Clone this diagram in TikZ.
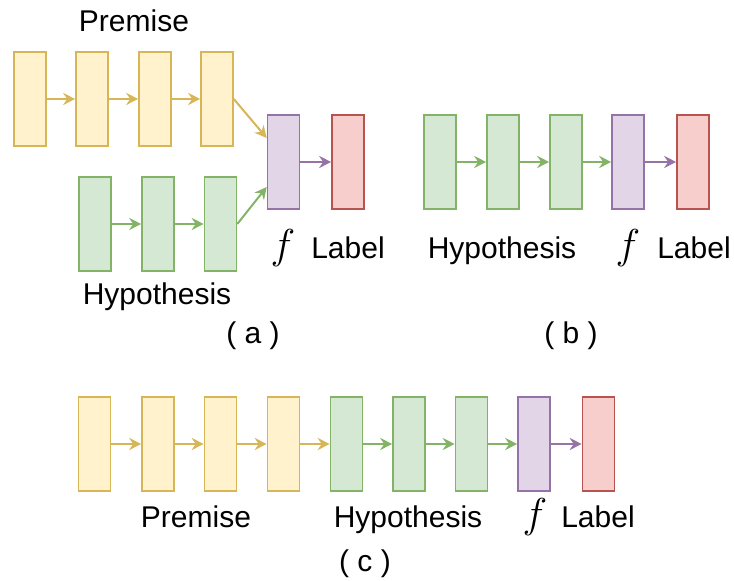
\documentclass[tikz,border=0pt]{standalone}
\usepackage{amsmath,amssymb}
\usepackage{fontspec}
\setmainfont{Liberation Sans}
\usetikzlibrary{arrows.meta}

\definecolor{premfill}{HTML}{FFF2CC}
\definecolor{premline}{HTML}{D6B656}
\definecolor{hypfill}{HTML}{D5E8D4}
\definecolor{hypline}{HTML}{82B366}
\definecolor{ffill}{HTML}{E1D5E7}
\definecolor{fline}{HTML}{9673A6}
\definecolor{labfill}{HTML}{F8CECC}
\definecolor{labline}{HTML}{B85450}

\begin{document}
\begin{tikzpicture}[x=0.5pt, y=-0.5pt,
    cell/.style={draw, line width=0.8pt, inner sep=0pt, minimum width=16pt, minimum height=47pt},
    prem/.style={cell, fill=premfill, draw=premline},
    hyp/.style={cell, fill=hypfill, draw=hypline},
    fcell/.style={cell, fill=ffill, draw=fline},
    lab/.style={cell, fill=labfill, draw=labline},
    link/.style={line width=1pt, -{Stealth[length=6pt, width=6pt, inset=2pt]}},
    txt/.style={inner sep=0pt, anchor=base, font=\fontsize{15}{18}\selectfont},
    ftxt/.style={txt, scale=1.45}]
    \useasboundingbox (0,0) rectangle (734,581);

    % (a) two encoders meeting in f
    \node[prem] (ap1) at (30,99) {};
    \node[prem] (ap2) at (92,99) {};
    \node[prem] (ap3) at (155,99) {};
    \node[prem] (ap4) at (217,99) {};
    \node[hyp] (ah1) at (95,224) {};
    \node[hyp] (ah2) at (158,224) {};
    \node[hyp] (ah3) at (220.5,224) {};
    \node[fcell] (af) at (283.5,162) {};
    \node[lab] (ay) at (348,162) {};
    \draw[link, premline] (ap1) -- (ap2);
    \draw[link, premline] (ap2) -- (ap3);
    \draw[link, premline] (ap3) -- (ap4);
    \draw[link, premline] (ap4.east) -- (af.west |- 0,138);
    \draw[link, hypline] (ah1) -- (ah2);
    \draw[link, hypline] (ah2) -- (ah3);
    \draw[link, hypline] (ah3.east) -- (af.west |- 0,187);
    \draw[link, fline] (af) -- (ay);
    \node[txt] (aprem) at (134,32) {Premise};
    \node[txt] (ahyp) at (157,305) {Hypothesis};
    \node[ftxt] (aftxt) at (283,259) {$f$};
    \node[txt] (aytxt) at (348,259) {Label};
    \node[txt] (acap) at (253,344) {( a )};

    % (b) hypothesis only
    \node[hyp] (bh1) at (440,162) {};
    \node[hyp] (bh2) at (503,162) {};
    \node[hyp] (bh3) at (566,162) {};
    \node[fcell] (bf) at (628,162) {};
    \node[lab] (by) at (693,162) {};
    \draw[link, hypline] (bh1) -- (bh2);
    \draw[link, hypline] (bh2) -- (bh3);
    \draw[link, hypline] (bh3) -- (bf);
    \draw[link, fline] (bf) -- (by);
    \node[txt] (bhyp) at (502,259) {Hypothesis};
    \node[ftxt] (bftxt) at (628,259) {$f$};
    \node[txt] (bytxt) at (694,259) {Label};
    \node[txt] (bcap) at (571,344) {( b )};

    % (c) one chain, premise then hypothesis
    \node[prem] (cp1) at (94.5,444) {};
    \node[prem] (cp2) at (158,444) {};
    \node[prem] (cp3) at (220.5,444) {};
    \node[prem] (cp4) at (283.5,444) {};
    \node[hyp] (ch1) at (346.5,444) {};
    \node[hyp] (ch2) at (409,444) {};
    \node[hyp] (ch3) at (471.5,444) {};
    \node[fcell] (cf) at (534,444) {};
    \node[lab] (cy) at (598.5,444) {};
    \draw[link, premline] (cp1) -- (cp2);
    \draw[link, premline] (cp2) -- (cp3);
    \draw[link, premline] (cp3) -- (cp4);
    \draw[link, premline] (cp4) -- (ch1);
    \draw[link, hypline] (ch1) -- (ch2);
    \draw[link, hypline] (ch2) -- (ch3);
    \draw[link, hypline] (ch3) -- (cf);
    \draw[link, fline] (cf) -- (cy);
    \node[txt] (cprem) at (196,528) {Premise};
    \node[txt] (chyp) at (408,528) {Hypothesis};
    \node[ftxt] (cftxt) at (535,528) {$f$};
    \node[txt] (cytxt) at (598,528) {Label};
    \node[txt] (ccap) at (365,572) {( c )};
\end{tikzpicture}
\end{document}
